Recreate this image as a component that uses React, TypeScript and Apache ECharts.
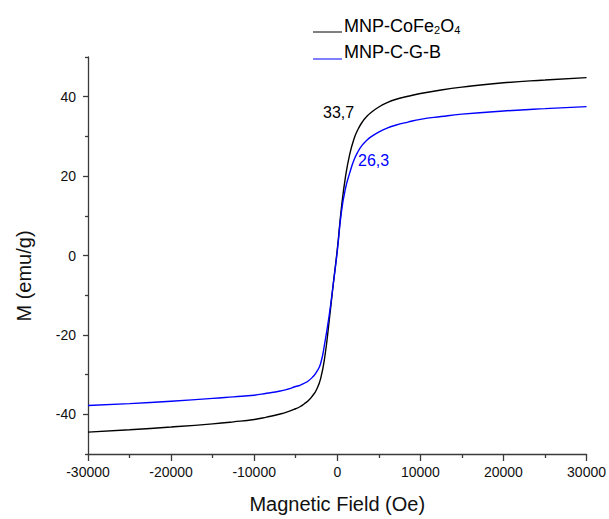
import React, { useEffect, useRef } from "react";
import * as echarts from "echarts";

// Magnetic field (Oe)
const fieldOe = [
  -30000, -25000, -20000, -15000, -12500, -10000, -8500, -7000, -6000, -5000,
  -4500, -4000, -3500, -3000, -2500, -2000, -1500, -1000, -500, 0, 500, 1000,
  1500, 2000, 2500, 3000, 3500, 4000, 5000, 6000, 7000, 8500, 10000, 12500,
  15000, 20000, 25000, 30000,
];
// Magnetization (emu/g)
const mCoFe2O4 = [
  -44.5, -43.9, -43.2, -42.4, -41.9, -41.3, -40.7, -40.0, -39.4, -38.6,
  -38.1, -37.4, -36.6, -35.4, -33.8, -31.0, -25.5, -17.0, -7.5, 1.5, 12.0, 20.0,
  25.5, 29.3, 31.8, 33.6, 34.9, 35.9, 37.4, 38.5, 39.3, 40.1, 40.8, 41.7,
  42.4, 43.5, 44.2, 44.8,
];
const mCGB = [
  -37.8, -37.3, -36.7, -36.0, -35.6, -35.2, -34.7, -34.2, -33.7, -33.0,
  -32.7, -32.2, -31.6, -30.7, -29.4, -27.2, -22.0, -15.5, -7.5, 1.0, 11.0, 17.0,
  20.8, 24.0, 26.2, 27.8, 28.9, 29.8, 31.1, 32.1, 32.8, 33.6, 34.3, 35.0,
  35.6, 36.4, 37.0, 37.5,
];
const yMajorTicks = [-40, -20, 0, 20, 40];
const yMinorTicks = [-50, -30, -10, 10, 30, 50];
const annotations = ["33,7", "26,3"];
const seriesNames = ["MNP-CoFe2O4", "MNP-C-G-B"];

const FONT = "'Liberation Sans', Arial, sans-serif";
const AXIS_COLOR = "#3a3a3a";
const BLUE = "#0000ff";

export default function App() {
  const ref = useRef<HTMLDivElement>(null);
  useEffect(() => {
    if (!ref.current) return;
    const chart = echarts.init(ref.current, undefined, { renderer: "svg" });
    const toPairs = (ys: number[]) => fieldOe.map((h, i) => [h, ys[i]]);
    chart.setOption({
      animation: false,
      backgroundColor: "#ffffff",
      grid: { left: 88, right: 22, top: 57, bottom: 61, containLabel: false },
      xAxis: {
        type: "value",
        min: -30000,
        max: 30000,
        interval: 10000,
        name: "Magnetic Field (Oe)",
        nameLocation: "middle",
        nameGap: 40,
        nameTextStyle: { fontFamily: FONT, fontSize: 20, color: "#111" },
        axisLine: { show: true, onZero: false, lineStyle: { color: AXIS_COLOR, width: 1.3 } },
        axisTick: { show: true, inside: false, length: 7, lineStyle: { color: AXIS_COLOR, width: 1.3 } },
        minorTick: { show: true, splitNumber: 2, length: 4, lineStyle: { color: AXIS_COLOR, width: 1.3 } },
        axisLabel: {
          fontFamily: FONT,
          fontSize: 14,
          color: "#111",
          margin: 11,
          formatter: (v: number) => String(v),
        },
        splitLine: { show: false },
        minorSplitLine: { show: false },
      },
      yAxis: [
        {
          type: "value",
          min: -50,
          max: 50,
          position: "left",
          axisLine: { show: true, onZero: false, lineStyle: { color: AXIS_COLOR, width: 1.3 } },
          axisTick: {
            show: true,
            inside: false,
            length: 5,
            customValues: yMajorTicks,
            lineStyle: { color: AXIS_COLOR, width: 1.3 },
          },
          axisLabel: {
            fontFamily: FONT,
            fontSize: 14,
            color: "#111",
            margin: 12,
            customValues: yMajorTicks,
            formatter: (v: number) => String(v),
          },
          splitLine: { show: false },
        },
        {
          type: "value",
          min: -50,
          max: 50,
          position: "left",
          offset: 0,
          axisLine: { show: false, onZero: false },
          axisTick: {
            show: true,
            inside: false,
            length: 3,
            customValues: yMinorTicks,
            lineStyle: { color: AXIS_COLOR, width: 1.3 },
          },
          axisLabel: { show: false },
          splitLine: { show: false },
        },
      ],
      series: [
        {
          name: seriesNames[0],
          type: "line",
          yAxisIndex: 0,
          data: toPairs(mCoFe2O4),
          showSymbol: false,
          smooth: 0.5,
          lineStyle: { color: "#000000", width: 1.4 },
          itemStyle: { color: "#000000" },
        },
        {
          name: seriesNames[1],
          type: "line",
          yAxisIndex: 0,
          data: toPairs(mCGB),
          showSymbol: false,
          smooth: 0.5,
          lineStyle: { color: BLUE, width: 1.4 },
          itemStyle: { color: BLUE },
        },
      ],
      graphic: [
        {
          type: "text",
          x: 24,
          y: 276,
          rotation: Math.PI / 2,
          style: {
            text: "M (emu/g)",
            fontFamily: FONT,
            fontSize: 20,
            fill: "#111",
            align: "center",
            verticalAlign: "middle",
            textAlign: "center",
            textVerticalAlign: "middle",
          },
        },
        {
          type: "line",
          shape: { x1: 313, y1: 32, x2: 342, y2: 32 },
          style: { stroke: "#000000", lineWidth: 1 },
        },
        {
          type: "text",
          x: 344,
          y: 25.5,
          style: {
            text: "{a|MNP-CoFe}{s|2}{a|O}{s|4}",
            fontFamily: FONT,
            fontSize: 18,
            fill: "#000",
            verticalAlign: "middle",
            textVerticalAlign: "middle",
            rich: {
              a: { fontFamily: FONT, fontSize: 18, lineHeight: 20, fill: "#000" },
              s: { fontFamily: FONT, fontSize: 11, lineHeight: 9, verticalAlign: "bottom", fill: "#000" },
            },
          },
        },
        {
          type: "line",
          shape: { x1: 313, y1: 59, x2: 342, y2: 59 },
          style: { stroke: BLUE, lineWidth: 1 },
        },
        {
          type: "text",
          x: 344,
          y: 52,
          style: {
            text: seriesNames[1],
            fontFamily: FONT,
            fontSize: 18,
            fill: "#000",
            verticalAlign: "middle",
            textVerticalAlign: "middle",
          },
        },
        {
          type: "text",
          x: 323,
          y: 112,
          style: {
            text: annotations[0],
            fontFamily: FONT,
            fontSize: 16,
            fill: "#000",
            verticalAlign: "middle",
            textVerticalAlign: "middle",
          },
        },
        {
          type: "text",
          x: 358,
          y: 160.5,
          style: {
            text: annotations[1],
            fontFamily: FONT,
            fontSize: 16,
            fill: BLUE,
            verticalAlign: "middle",
            textVerticalAlign: "middle",
          },
        },
      ],
    });
    return () => chart.dispose();
  }, []);
  return (
    <div
      ref={ref}
      style={{ position: "fixed", left: 0, top: 0, width: 609, height: 519, background: "#fff" }}
    />
  );
}
